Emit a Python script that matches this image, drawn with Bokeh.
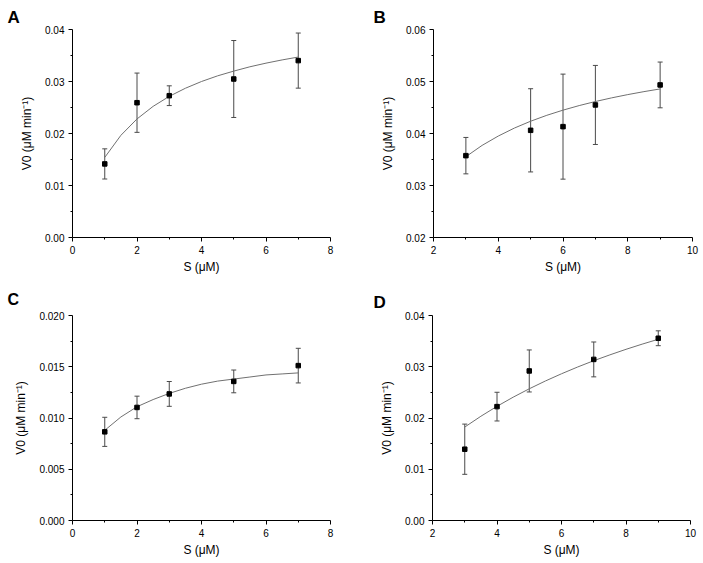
from bokeh.plotting import figure
from bokeh.models import (Range1d, FixedTicker, NumeralTickFormatter, Whisker, TeeHead,
                          ColumnDataSource)
from bokeh.layouts import column, row
from bokeh.embed import file_html
from bokeh.resources import INLINE

# ---------------- data ----------------
# Panel A
a_s = [1, 2, 3, 5, 7]
a_v = [0.01415, 0.02592, 0.02727, 0.03048, 0.03402]
a_err = [0.0029, 0.0057, 0.0019, 0.0074, 0.0053]
a_fit_s = [1, 1.5, 2, 2.5, 3, 3.5, 4, 4.5, 5, 5.5, 6, 6.5, 7]
a_fit_v = [0.0154, 0.01965, 0.0228, 0.02522, 0.02714, 0.0287, 0.0300, 0.03109,
           0.0320, 0.03283, 0.03353, 0.03415, 0.0347]

# Panel B
b_s = [3, 5, 6, 7, 9]
b_v = [0.03574, 0.04061, 0.04132, 0.04549, 0.04934]
b_err = [0.0035, 0.0080, 0.0101, 0.0076, 0.0044]
b_fit_s = [3, 3.5, 4, 4.5, 5, 5.5, 6, 6.5, 7, 7.5, 8, 8.5, 9]
b_fit_v = [0.03554, 0.03771, 0.03951, 0.04105, 0.04236, 0.0435, 0.04449, 0.04537,
           0.04615, 0.04685, 0.04748, 0.04805, 0.04857]

# Panel C
c_s = [1, 2, 3, 5, 7]
c_v = [0.00865, 0.01103, 0.01235, 0.01357, 0.01511]
c_err = [0.00142, 0.00110, 0.00121, 0.00111, 0.00169]
c_fit_s = [1, 1.5, 2, 2.5, 3, 3.5, 4, 4.5, 5, 5.5, 6, 6.5, 7]
c_fit_v = [0.0088, 0.0101, 0.0111, 0.0118, 0.0124, 0.0129, 0.0133, 0.0136,
           0.0138, 0.0140, 0.0142, 0.0143, 0.0144]

# Panel D
d_s = [3, 4, 5, 7, 9]
d_v = [0.01391, 0.02222, 0.02918, 0.03143, 0.03556]
d_err = [0.0049, 0.0028, 0.0041, 0.0034, 0.00145]
d_fit_s = [3, 3.5, 4, 4.5, 5, 5.5, 6, 6.5, 7, 7.5, 8, 8.5, 9]
d_fit_v = [0.01823, 0.02034, 0.02228, 0.02406, 0.0257, 0.02722, 0.02863, 0.02995,
           0.03118, 0.03232, 0.0334, 0.03441, 0.03536]

# axes / ticks
x_ticks_0_8 = [0, 2, 4, 6, 8]
x_minor_0_8 = [1, 3, 5, 7]
x_ticks_2_10 = [2, 4, 6, 8, 10]
x_minor_2_10 = [3, 5, 7, 9]
y_ticks_A = [0.0, 0.01, 0.02, 0.03, 0.04]
y_minor_A = [0.005, 0.015, 0.025, 0.035]
y_ticks_B = [0.02, 0.03, 0.04, 0.05, 0.06]
y_minor_B = [0.025, 0.035, 0.045, 0.055]
y_ticks_C = [0.0, 0.005, 0.010, 0.015, 0.020]
y_minor_C = [0.0025, 0.0075, 0.0125, 0.0175]

x_label = "S (μM)"
y_label = "V0 (μM min⁻¹)"

FONT = "Liberation Sans"


def panel(s, v, err, fs, fv, xr, yr, xt, xm, yt, ym, yfmt, letter,
          width, height, bl, br, bt, bb, t_off, t_standoff, t_size):
    p = figure(width=width, height=height, x_range=Range1d(*xr), y_range=Range1d(*yr),
               output_backend="svg", toolbar_location=None,
               min_border_left=bl, min_border_right=br, min_border_top=bt,
               min_border_bottom=bb)
    p.outline_line_color = None
    p.grid.visible = False
    p.background_fill_color = "white"
    p.border_fill_color = "white"

    p.title.text = letter
    p.title.align = "left"
    p.title.offset = t_off
    p.title.standoff = t_standoff
    p.title.text_font = FONT
    p.title.text_font_size = t_size
    p.title.text_font_style = "bold"
    p.title.text_color = "black"

    p.xaxis.ticker = FixedTicker(ticks=xt, minor_ticks=xm)
    p.yaxis.ticker = FixedTicker(ticks=yt, minor_ticks=ym)
    p.xaxis.formatter = NumeralTickFormatter(format="0")
    p.yaxis.formatter = NumeralTickFormatter(format=yfmt)
    for ax in (p.xaxis[0], p.yaxis[0]):
        ax.axis_line_color = "black"
        ax.axis_line_width = 1
        ax.major_tick_line_color = "black"
        ax.minor_tick_line_color = "black"
        ax.major_tick_out = 4
        ax.major_tick_in = 0
        ax.minor_tick_out = 2
        ax.minor_tick_in = 0
        ax.major_label_text_font = FONT
        ax.major_label_text_font_size = "10px"
        ax.major_label_text_color = "black"
        ax.axis_label_text_font = FONT
        ax.axis_label_text_font_size = "12px"
        ax.axis_label_text_font_style = "normal"
        ax.axis_label_text_color = "black"
        ax.major_label_standoff = 4
    p.xaxis.axis_label = x_label
    p.yaxis.axis_label = y_label
    p.xaxis.axis_label_standoff = 3
    p.yaxis.axis_label_standoff = 8

    p.line(fs, fv, line_color="#707070", line_width=1)

    src = ColumnDataSource(dict(x=s, v=v,
                                upper=[a + b for a, b in zip(v, err)],
                                lower=[a - b for a, b in zip(v, err)]))
    w = Whisker(base="x", upper="upper", lower="lower", source=src,
                line_color="#4a4a4a", line_width=1,
                upper_head=TeeHead(size=5, line_color="#4a4a4a", line_width=1),
                lower_head=TeeHead(size=5, line_color="#4a4a4a", line_width=1))
    p.add_layout(w)
    p.scatter("x", "v", source=src, marker="square", size=4.5,
              fill_color="black", line_color="black")
    return p


pA = panel(a_s, a_v, a_err, a_fit_s, a_fit_v, (0, 8), (0, 0.04),
           x_ticks_0_8, x_minor_0_8, y_ticks_A, y_minor_A, "0.00", "A",
           351, 280, 72, 21, 29, 43, -65, 5, "17px")
pB = panel(b_s, b_v, b_err, b_fit_s, b_fit_v, (2, 10), (0.02, 0.06),
           x_ticks_2_10, x_minor_2_10, y_ticks_B, y_minor_B, "0.00", "B",
           352, 280, 82, 11, 29, 43, -60, 5, "17px")
pC = panel(c_s, c_v, c_err, c_fit_s, c_fit_v, (0, 8), (0, 0.02),
           x_ticks_0_8, x_minor_0_8, y_ticks_C, y_minor_C, "0.000", "C",
           351, 283, 72, 21, 35, 41, -65, 16, "16px")
pD = panel(d_s, d_v, d_err, d_fit_s, d_fit_v, (2, 10), (0, 0.04),
           x_ticks_2_10, x_minor_2_10, y_ticks_A, y_minor_A, "0.00", "D",
           352, 283, 81, 13, 33, 43, -59, 8, "17px")

layout = column(row(pA, pB), row(pC, pD))
open("out.html", "w").write(file_html(layout, INLINE))
